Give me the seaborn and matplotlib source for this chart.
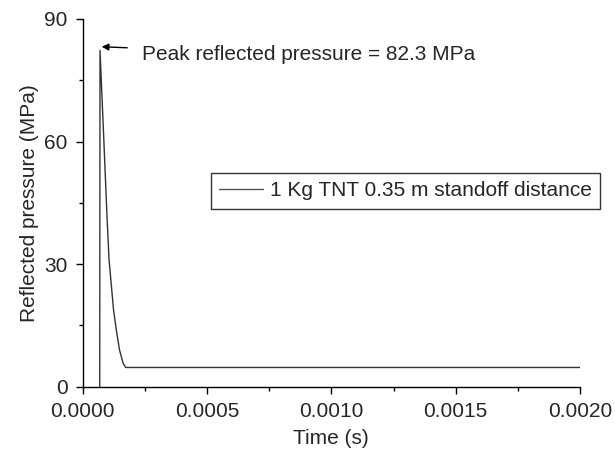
import numpy as np
import pandas as pd
import matplotlib
matplotlib.use("Agg")
import matplotlib.pyplot as plt
from matplotlib.ticker import MultipleLocator, FormatStrFormatter
import seaborn as sns

# Data
time_s = [0.0000684, 0.0000696, 0.0000849, 0.0000965, 0.0001058, 0.000115,
          0.0001239, 0.0001351, 0.000148, 0.0001621, 0.0001729, 0.002]
pressure_mpa = [0.0, 82.3, 60.4, 43.3, 31.1, 24.9,
                18.8, 13.9, 9.0, 5.8, 4.7, 4.7]
series_label = "1 Kg TNT 0.35 m standoff distance"
peak_text = "Peak reflected pressure = 82.3 MPa"

df = pd.DataFrame({"Time": time_s, "Pressure": pressure_mpa})

sns.set_style("ticks")
plt.rcParams["font.family"] = ["Liberation Sans", "DejaVu Sans"]
plt.rcParams["font.size"] = 15

fig = plt.figure(figsize=(6.15, 4.53), dpi=100)
ax = fig.add_axes([0.1345, 0.1464, 0.8086, 0.8117])

sns.lineplot(data=df, x="Time", y="Pressure", ax=ax, color="#333333",
             linewidth=1.0, label=series_label, sort=False)

ax.set_xlim(0, 0.002)
ax.set_ylim(0, 90)
ax.xaxis.set_major_locator(MultipleLocator(0.0005))
ax.xaxis.set_minor_locator(MultipleLocator(0.00025))
ax.xaxis.set_major_formatter(FormatStrFormatter("%.4f"))
ax.yaxis.set_major_locator(MultipleLocator(30))
ax.yaxis.set_minor_locator(MultipleLocator(15))
ax.tick_params(which="major", length=5, width=1, color="black", labelsize=15, pad=6)
ax.tick_params(which="minor", length=3, width=1, color="black")
for s in ["left", "bottom"]:
    ax.spines[s].set_color("black")
    ax.spines[s].set_linewidth(1)
sns.despine(ax=ax)

ax.set_xlabel("Time (s)", fontsize=15, labelpad=6)
ax.set_ylabel("Reflected pressure (MPa)", fontsize=15)

ax.annotate(peak_text, xy=(0.0000764, 83.2), xytext=(0.000237, 81.2),
            fontsize=15, va="center", ha="left",
            arrowprops=dict(arrowstyle="-|>", color="black", lw=1,
                            mutation_scale=10, shrinkA=8, shrinkB=0))

leg = ax.legend(loc="upper right", bbox_to_anchor=(1.04, 0.581),
                borderaxespad=0, frameon=True, fancybox=False,
                handlelength=2.07, handletextpad=0.34, fontsize=15,
                borderpad=0.4)
leg.get_frame().set_edgecolor("black")
leg.get_frame().set_linewidth(1)
leg.get_lines()[0].set_color("#555555")

fig.savefig("out.png", dpi=100)
